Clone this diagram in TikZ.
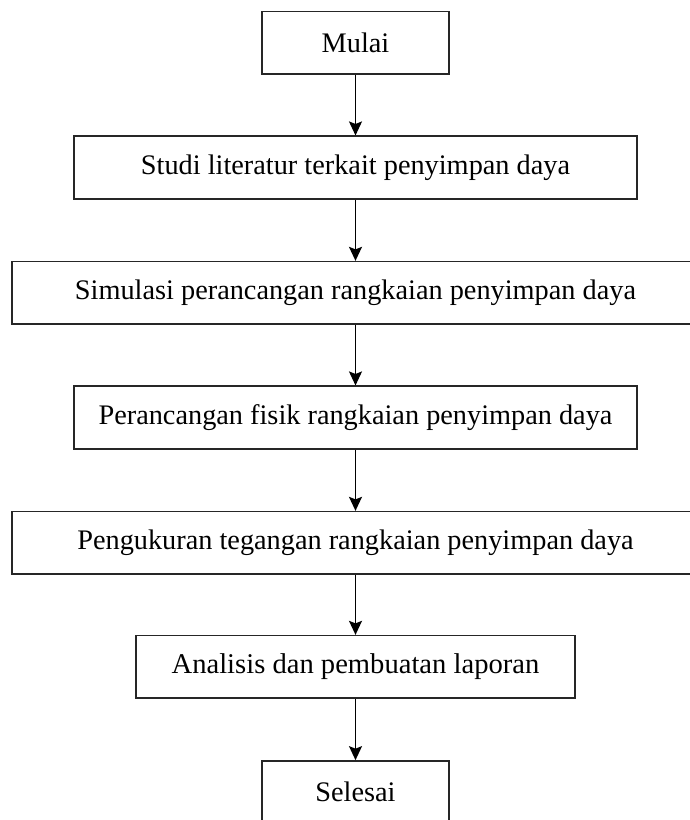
\documentclass[tikz,border=0pt]{standalone}
\usepackage{fontspec}
\setmainfont{Liberation Serif}
\usetikzlibrary{arrows.meta}
\begin{document}
\begin{tikzpicture}[x=1pt,y=-1pt,
  box/.style={draw=black!85,line width=1.6pt,inner sep=0pt,anchor=center,
    minimum height=62.5pt,font=\fontsize{28.3}{30}\selectfont},
  flow/.style={draw=black,line width=1.5pt,-{Stealth[length=14pt,width=13pt,inset=2.5pt]}}]
\useasboundingbox (0,0) rectangle (690,820);
\begin{scope}
\clip (0,0) rectangle (690,820);
\node[box,minimum width=187pt] (n1) at (355.5,42.9) {Mulai};
\node[box,minimum width=563.5pt] (n2) at (355.5,167.5) {Studi literatur terkait penyimpan daya};
\node[box,minimum width=687pt] (n3) at (355.5,292.9) {Simulasi perancangan rangkaian penyimpan daya};
\node[box,minimum width=563.5pt] (n4) at (355.5,417.5) {Perancangan fisik rangkaian penyimpan daya};
\node[box,minimum width=687pt] (n5) at (355.5,542.9) {Pengukuran tegangan rangkaian penyimpan daya};
\node[box,minimum width=438.5pt,font=\fontsize{28.6}{30}\selectfont] (n6) at (355.5,666.9) {Analisis dan pembuatan laporan};
\node[box,minimum width=187pt] (n7) at (355.5,792.2) {Selesai};
\draw[flow] (n1) -- (n2);
\draw[flow] (n2) -- (n3);
\draw[flow] (n3) -- (n4);
\draw[flow] (n4) -- (n5);
\draw[flow] (n5) -- (n6);
\draw[flow] (n6) -- (n7);
\end{scope}
\end{tikzpicture}
\end{document}
